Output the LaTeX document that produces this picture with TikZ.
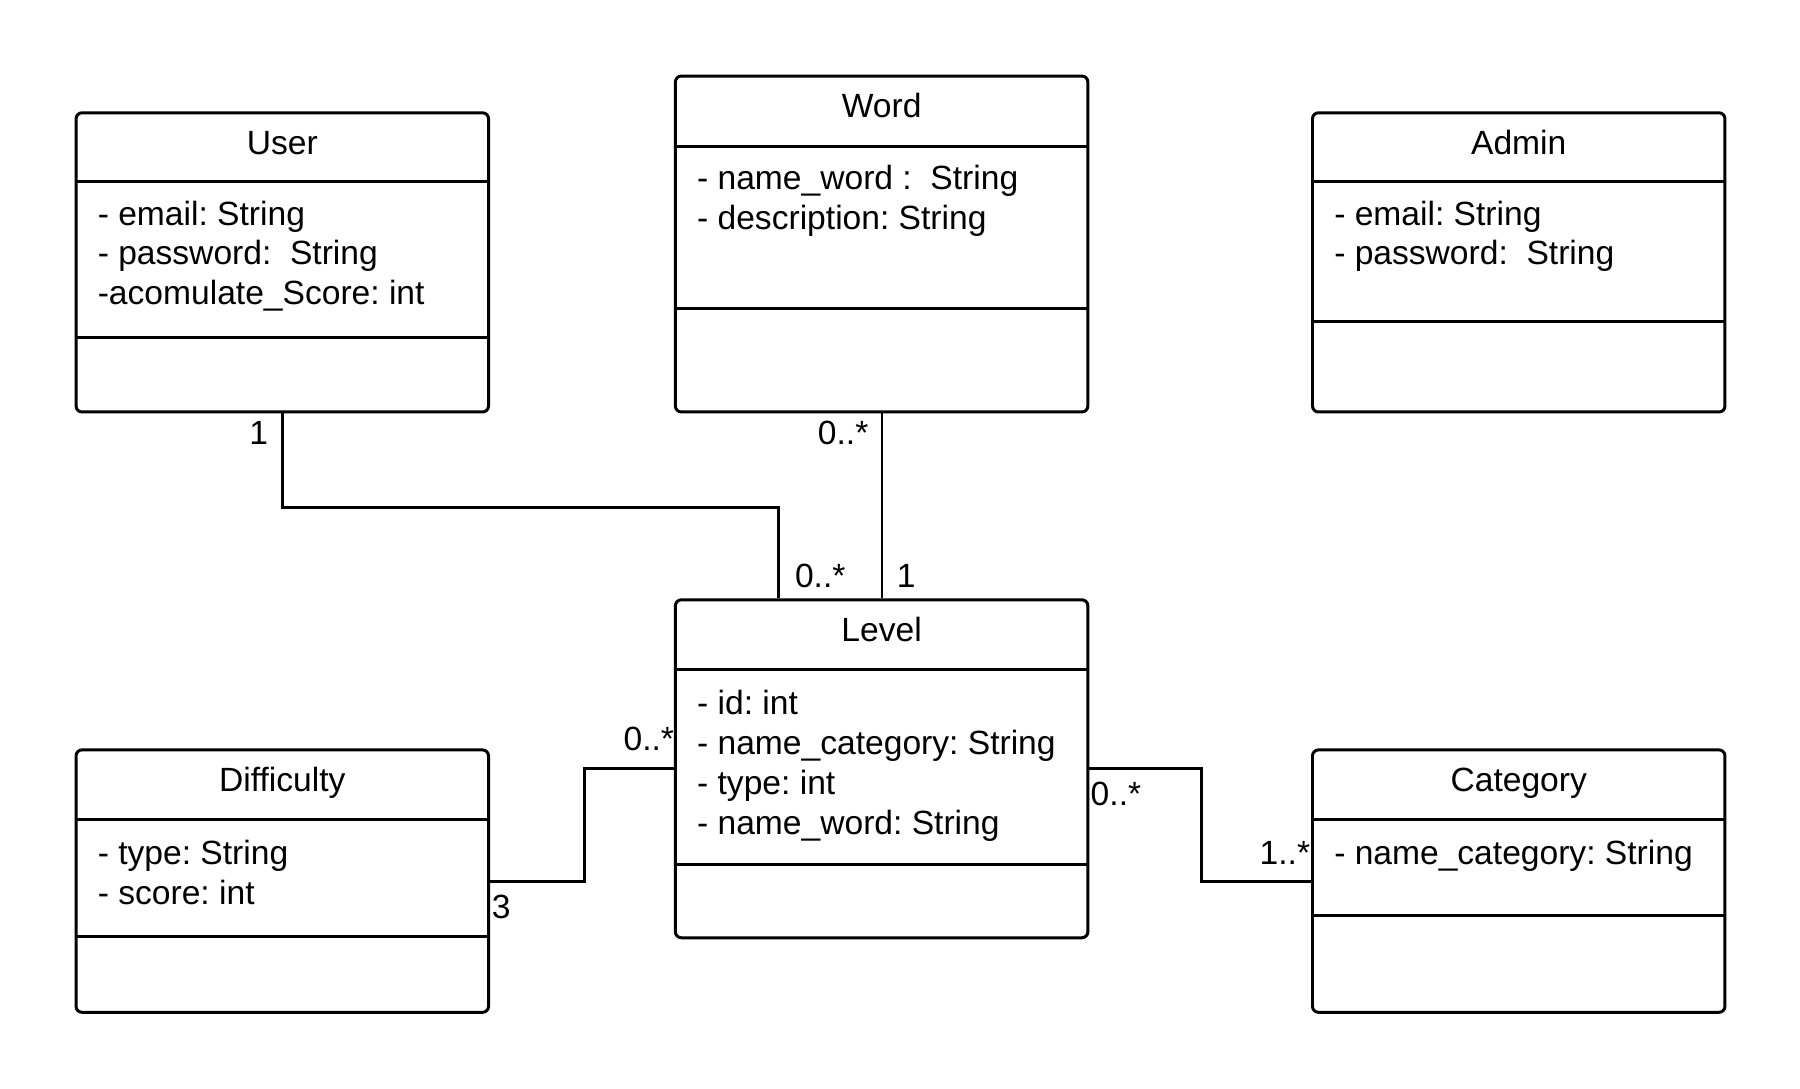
\documentclass[tikz,border=0pt]{standalone}
\usepackage{fontspec}
\setmainfont{Liberation Sans}
\frenchspacing
\begin{document}
\begin{tikzpicture}[x=0.5pt,y=-0.5pt,
	classbox/.style={draw, line width=1.5pt, rounded corners=3pt, minimum width=207.5pt, anchor=north west, inner sep=0pt},
	sepline/.style={line width=1.5pt},
	title/.style={font=\fontsize{16.9}{20.2}\selectfont, anchor=base, inner sep=0pt},
	attr/.style={font=\fontsize{16.9}{20.2}\selectfont, anchor=base west, inner sep=0pt},
	mult/.style={font=\fontsize{16.9}{20.2}\selectfont, anchor=base west, inner sep=0pt},
	assoc/.style={line width=1.5pt},
	thinassoc/.style={line width=1pt}]
			\fill[white] (0,0) rectangle (1811,1095);
			\useasboundingbox (0,0) rectangle (1811,1095);
			% User
			\node[classbox, minimum height=150.5pt] (user) at (75,112) {};
			\draw[sepline] ([yshift=-35.5pt]user.north west) -- ([yshift=-35.5pt]user.north east);
			\draw[sepline] ([yshift=-114pt]user.north west) -- ([yshift=-114pt]user.north east);
			\node[title] at ([yshift=-21.5pt]user.north) {User};
			\foreach \a [count=\i] in {- email: String, - password:~ String, -acomulate\_Score: int}
			\node[attr] at ([xshift=11.5pt, yshift=-37.5pt-\i*19.9pt]user.north west) {\a};
			% Word
			\node[classbox, minimum height=169pt] (word) at (678,75) {};
			\draw[sepline] ([yshift=-36pt]word.north west) -- ([yshift=-36pt]word.north east);
			\draw[sepline] ([yshift=-117.5pt]word.north west) -- ([yshift=-117.5pt]word.north east);
			\node[title] at ([yshift=-21.5pt]word.north) {Word};
			\foreach \a [count=\i] in {- name\_word :~ String, - description: String}
			\node[attr] at ([xshift=11.5pt, yshift=-38pt-\i*19.9pt]word.north west) {\a};
			% Admin
			\node[classbox, minimum height=150.5pt] (admin) at (1319,112) {};
			\draw[sepline] ([yshift=-35.5pt]admin.north west) -- ([yshift=-35.5pt]admin.north east);
			\draw[sepline] ([yshift=-105.5pt]admin.north west) -- ([yshift=-105.5pt]admin.north east);
			\node[title] at ([yshift=-21.5pt]admin.north) {Admin};
			\foreach \a [count=\i] in {- email: String, - password:~ String}
			\node[attr] at ([xshift=11.5pt, yshift=-37.5pt-\i*19.9pt]admin.north west) {\a};
			% Level
			\node[classbox, minimum height=170pt] (level) at (678,602) {};
			\draw[sepline] ([yshift=-36pt]level.north west) -- ([yshift=-36pt]level.north east);
			\draw[sepline] ([yshift=-134pt]level.north west) -- ([yshift=-134pt]level.north east);
			\node[title] at ([yshift=-21.5pt]level.north) {Level};
			\foreach \a [count=\i] in {- id: int, - name\_category: String, - type: int, - name\_word: String}
			\node[attr] at ([xshift=11.5pt, yshift=-38pt-\i*20.2pt]level.north west) {\a};
			% Difficulty
			\node[classbox, minimum height=132pt] (difficulty) at (75,753) {};
			\draw[sepline] ([yshift=-36pt]difficulty.north west) -- ([yshift=-36pt]difficulty.north east);
			\draw[sepline] ([yshift=-94.5pt]difficulty.north west) -- ([yshift=-94.5pt]difficulty.north east);
			\node[title] at ([yshift=-21.5pt]difficulty.north) {Difficulty};
			\foreach \a [count=\i] in {- type: String, - score: int}
			\node[attr] at ([xshift=11.5pt, yshift=-38pt-\i*20.2pt]difficulty.north west) {\a};
			% Category
			\node[classbox, minimum height=132pt] (category) at (1319,753) {};
			\draw[sepline] ([yshift=-36pt]category.north west) -- ([yshift=-36pt]category.north east);
			\draw[sepline] ([yshift=-84pt]category.north west) -- ([yshift=-84pt]category.north east);
			\node[title] at ([yshift=-21.5pt]category.north) {Category};
			\node[attr] at ([xshift=11.5pt, yshift=-58.2pt]category.north west) {- name\_category: String};
			% associations
			\draw[assoc] (user.south) -- ++(0,-47.5pt) -| ([xshift=-51.75pt]level.north);
			\draw[thinassoc] (word.south) -- (level.north);
			\draw[assoc] (difficulty.east) -- ++(47.5pt,0) |- (level.west);
			\draw[assoc] (level.east) -- ++(56.5pt,0) |- (category.west);
			% multiplicities
			\node[mult] at ([xshift=-16.75pt, yshift=-15.5pt]user.south) {1};
			\node[mult] at ([xshift=-32.25pt, yshift=-15.5pt]word.south) {0..*};
			\node[mult] at ([xshift=-43.75pt, yshift=5.5pt]level.north) {0..*};
			\node[mult] at ([xshift=7.5pt, yshift=5.5pt]level.north) {1};
			\node[mult] at ([xshift=0.75pt, yshift=-19pt]difficulty.east) {3};
			\node[mult] at ([xshift=-25.5pt, yshift=9pt]level.west) {0..*};
			\node[mult] at ([xshift=0.5pt, yshift=-18.5pt]level.east) {0..*};
			\node[mult] at ([xshift=-26pt, yshift=8.5pt]category.west) {1..*};
\end{tikzpicture}
\end{document}
